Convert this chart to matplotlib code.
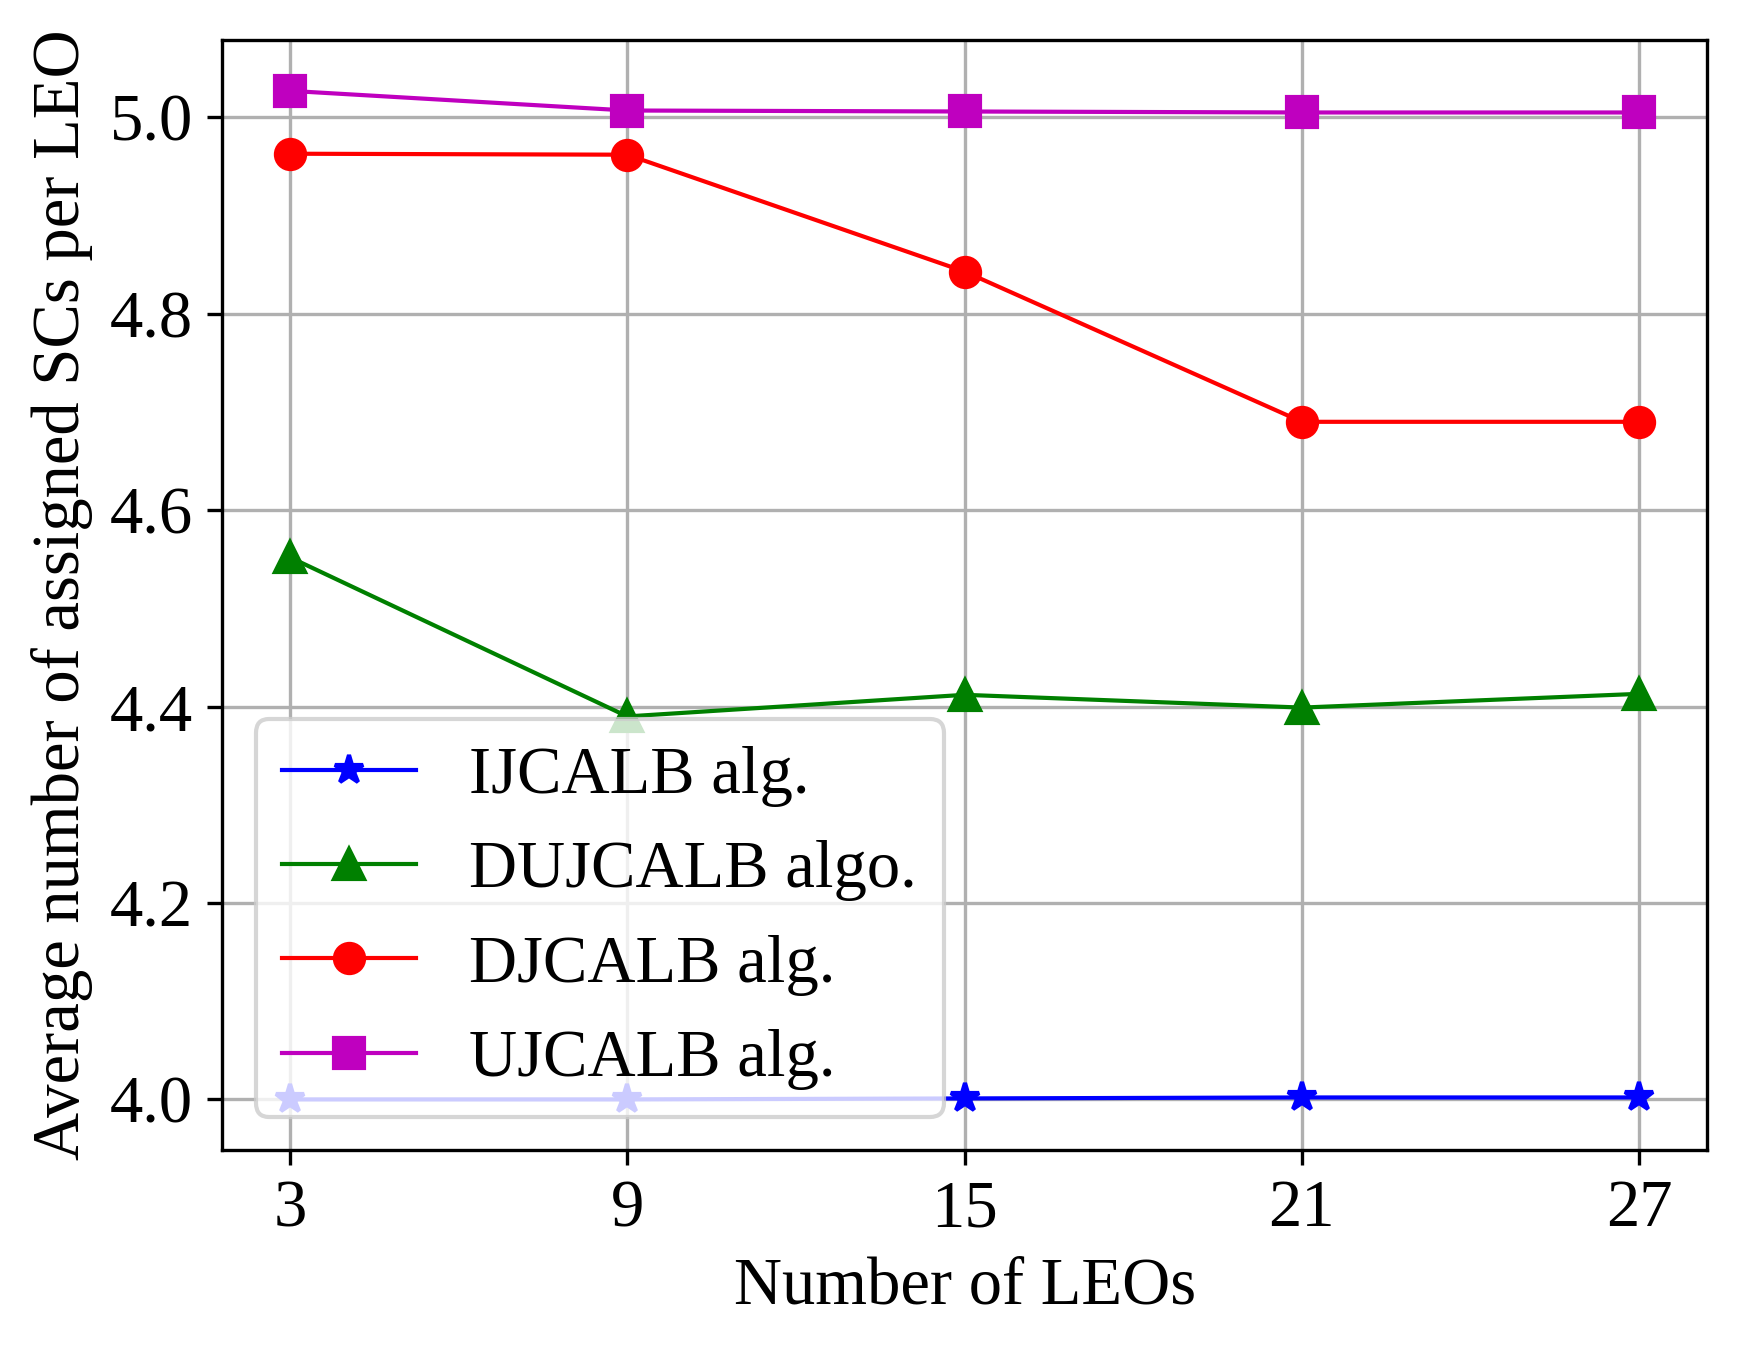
import numpy as np
import matplotlib.pyplot as plt

plt.rcParams['font.family'] = ['Liberation Serif', 'DejaVu Serif']
plt.rcParams['mathtext.fontset'] = 'stix'

# Data
num_leos = [3, 9, 15, 21, 27]
ijcalb = [4.000, 4.000, 4.001, 4.002, 4.002]
dujcalb = [4.552, 4.390, 4.412, 4.399, 4.413]
djcalb = [4.963, 4.962, 4.843, 4.690, 4.690]
ujcalb = [5.027, 5.007, 5.006, 5.005, 5.005]

fig, ax = plt.subplots(figsize=(1738 / 300, 1348 / 300), dpi=300)
fig.subplots_adjust(left=0.128, right=0.982, top=0.97, bottom=0.147)

ax.plot(num_leos, ijcalb, 'b-*', lw=1, ms=7, label='IJCALB alg.')
ax.plot(num_leos, dujcalb, 'g-^', lw=1, ms=7, label='DUJCALB algo.')
ax.plot(num_leos, djcalb, 'r-o', lw=1, ms=7, label='DJCALB alg.')
ax.plot(num_leos, ujcalb, 'm-s', lw=1, ms=7, label='UJCALB alg.')

ax.set_xticks(num_leos)
ax.set_yticks([4.0, 4.2, 4.4, 4.6, 4.8, 5.0])
ax.tick_params(labelsize=16)
ax.set_xlabel('Number of LEOs', fontsize=16)
ax.set_ylabel('Average number of assigned SCs per LEO', fontsize=16)
ax.grid(True)
ax.legend(loc='lower left', fontsize=16)

fig.savefig('out.png', dpi=300)
